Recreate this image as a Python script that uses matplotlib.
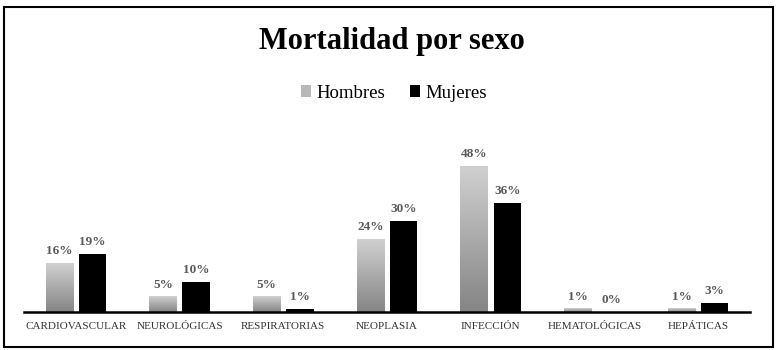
import matplotlib
matplotlib.use("Agg")
import matplotlib.pyplot as plt
import numpy as np
from matplotlib.patches import Rectangle
from matplotlib.colors import LinearSegmentedColormap

categories = ["CARDIOVASCULAR", "NEUROLÓGICAS", "RESPIRATORIAS", "NEOPLASIA",
              "INFECCIÓN", "HEMATOLÓGICAS", "HEPÁTICAS"]
hombres = [16, 5, 5, 24, 48, 1, 1]
mujeres = [19, 10, 1, 30, 36, 0, 3]
series_names = ["Hombres", "Mujeres"]

plt.rcParams['font.family'] = ['Liberation Serif', 'DejaVu Serif']

fig = plt.figure(figsize=(7.8, 3.5), dpi=100)
ax = fig.add_axes([24/780, 1-312/350, (750-24)/780, (312-110)/350])

x = np.arange(len(categories))
w = 0.265
off = 0.16

cmap = LinearSegmentedColormap.from_list("g", ["#858585", "#d0d0d0"])
grad = np.linspace(0, 1, 64).reshape(-1, 1)
bars_h = ax.bar(x - off, hombres, w, color="none", edgecolor="none")
for b in bars_h:
    x0, y0, bw, bh = b.get_x(), b.get_y(), b.get_width(), b.get_height()
    if bh > 0:
        ax.imshow(grad, cmap=cmap, origin="lower", aspect="auto",
                  extent=[x0, x0 + bw, y0, y0 + bh], zorder=2)
bars_m = ax.bar(x + off, mujeres, w, color="black", zorder=2)

for xi, v in zip(x - off, hombres):
    ax.text(xi, v + 2.0, f"{v}%", ha="center", va="bottom", fontsize=9.5,
            color="#595959", fontweight="bold")
for xi, v in zip(x + off, mujeres):
    ax.text(xi, v + 2.0, f"{v}%", ha="center", va="bottom", fontsize=9.5,
            color="#595959", fontweight="bold")

ax.set_xlim(-0.5, len(categories) - 0.5)
ax.set_ylim(0, 66.5)
ax.set_xticks(x)
ax.set_xticklabels(categories, fontsize=8, color="#333333")
ax.tick_params(axis="x", length=0, pad=7)
ax.set_yticks([])
for s in ["top", "right", "left"]:
    ax.spines[s].set_visible(False)
ax.spines["bottom"].set_linewidth(1.8)
ax.spines["bottom"].set_color("black")

fig.text(0.502, 1-42/350, "Mortalidad por sexo", ha="center", va="center",
         fontsize=22, fontweight="bold")

# legend
hl = Rectangle((0, 0), 1, 1, facecolor="#b8b8b8", edgecolor="none")
ml = Rectangle((0, 0), 1, 1, facecolor="black", edgecolor="none")
fig.legend([hl, ml], series_names, loc="center", bbox_to_anchor=(0.505, 1-93/350),
           ncol=2, frameon=False, fontsize=13.5, handlelength=0.55, handleheight=0.55,
           handletextpad=0.3, columnspacing=1.3)

fig.patches.append(Rectangle((4/780, 3/350), 769/780, 340/350, transform=fig.transFigure,
                             fill=False, edgecolor="black", linewidth=1.5))

fig.savefig("out.png", dpi=100)
